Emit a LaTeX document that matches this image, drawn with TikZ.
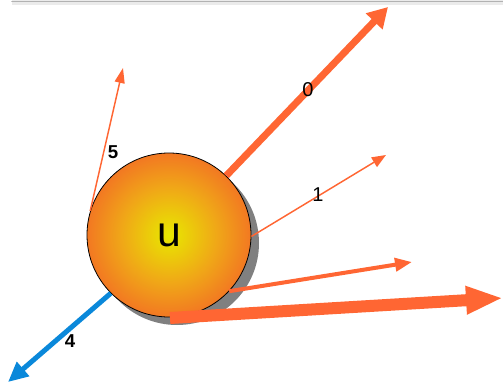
\documentclass[tikz,border=0pt]{standalone}
\usepackage{fontspec}
\setmainfont{Liberation Sans}
\usetikzlibrary{arrows.meta}
\definecolor{arr}{RGB}{255,102,51}
\definecolor{blu}{RGB}{10,136,218}
\definecolor{shad}{RGB}{128,128,128}
\definecolor{ballin}{RGB}{232,232,0}
\definecolor{ballmid}{RGB}{240,165,24}
\definecolor{ballout}{RGB}{242,120,34}
\pgfdeclareradialshading{ball}{\pgfpoint{0bp}{0bp}}{color(0bp)=(ballin); color(6bp)=(ballin!60!ballmid); color(15bp)=(ballmid); color(25bp)=(ballout); color(100bp)=(ballout)}
\tikzset{
  lbl/.style={font=\fontsize{15}{17}\selectfont, inner sep=0pt},
  blbl/.style={font=\fontsize{14}{16}\selectfont\bfseries, inner sep=0pt},
  arrline/.style={draw=arr},
}
\begin{document}
\begin{tikzpicture}[x=0.75pt,y=-0.75pt]
\useasboundingbox (0,0) rectangle (503,385);
% top panel edge
\fill[black!8] (12,0) rectangle (503,5);
\draw[black!30, line width=1.2pt, line cap=round] (12,1.5) -- (503,1.5);
% shadow
\fill[shad] (177,243) circle (82);
% ball
\node[circle, draw=black, line width=0.6pt, minimum size=123pt, inner sep=0pt, shading=ball, font=\fontsize{32}{36}\selectfont] (u) at (169,235) {u};
% coordinates
\coordinate (t0) at (388,7);
\coordinate (t1) at (386,155);
\coordinate (t5) at (123,68);
\coordinate (t4) at (8,382);
\coordinate (t2) at (412,262);
\coordinate (t3) at (503,298);
\coordinate (s3) at (170,318);
% arrows
\draw[arrline, line width=5.25pt, -{Triangle[length=15pt,width=16.5pt]}] (u.46) -- (t0);
\draw[arrline, line width=1.1pt, -{Triangle[length=10.5pt,width=8.25pt]}] (u.-1) -- (t1);
\draw[arrline, line width=1.1pt, -{Triangle[length=11.25pt,width=7.5pt]}] (u.163) -- (t5);
\draw[draw=blu, line width=3.75pt, -{Triangle[length=15pt,width=13.5pt]}] (u.225) -- (t4);
\draw[arrline, line width=3pt, -{Triangle[length=12.75pt,width=9.75pt]}] (u.-43) -- (t2);
\draw[arrline, line width=9pt, -{Triangle[length=27.75pt,width=19.5pt]}] (s3) -- (t3);
% labels
\node[lbl] (l0) at (308,90) {0};
\node[lbl] (l1) at (318,195) {1};
\node[blbl] (l5) at (113,152) {5};
\node[blbl] (l4) at (70,341) {4};
\end{tikzpicture}
\end{document}
